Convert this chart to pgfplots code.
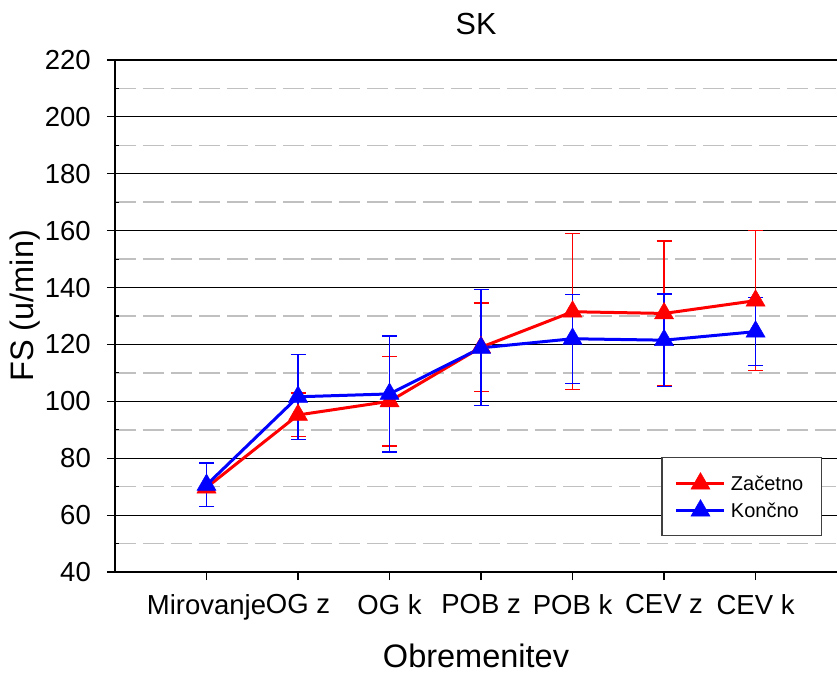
\documentclass[border=0pt]{standalone}
\usepackage{pgfplots}
\pgfplotsset{compat=1.18}
\usepackage{fontspec}
\setmainfont{Liberation Sans}

\definecolor{minorgray}{RGB}{192,192,192}

\begin{document}
\begin{tikzpicture}
\begin{axis}[
  scale only axis,
  width=722bp, height=512bp,
  xmin=-1, xmax=6.89,
  ymin=40, ymax=220,
  xtick={0,1,2,3,4,5,6},
  xticklabels={Mirovanje,OG z,OG k,POB z,POB k,CEV z,CEV k},
  ytick={40,60,...,220},
  minor y tick num=1,
  axis x line*=bottom,
  axis y line*=left,
  axis line style={black, line width=1.4bp},
  tick align=outside,
  major tick length=8bp,
  minor tick length=4bp,
  every tick/.style={black, line width=1.2bp},
  minor y tick style={xshift=4bp},
  ymajorgrids, yminorgrids,
  major grid style={black, line width=1.2bp},
  minor grid style={minorgray, line width=1.5bp, dash pattern=on 21bp off 7bp},
  /pgf/number format/assume math mode=true,
  ticklabel style={font=\fontsize{27.5bp}{30bp}\selectfont},
  xticklabel style={inner sep=0pt, yshift=-14bp},
  yticklabel style={inner sep=0pt, xshift=-16bp},
  title={SK},
  title style={font=\fontsize{30.5bp}{34bp}\selectfont, at={(axis description cs:0.5,1)}, anchor=base, yshift=20bp},
  xlabel={Obremenitev},
  xlabel style={font=\fontsize{32.5bp}{38bp}\selectfont, at={(axis description cs:0.5,0)}, anchor=base, yshift=-95bp},
  ylabel={FS (u/min)},
  ylabel style={font=\fontsize{32.5bp}{38bp}\selectfont, at={(axis description cs:-0.1247,0.52)}, anchor=center, rotate=0},
  legend style={at={(axis description cs:0.979,0.2246)}, anchor=north east,
    draw=black!75, line width=1.2bp, fill=white,
    font=\fontsize{20bp}{24bp}\selectfont,
    inner xsep=13bp, inner ysep=15bp, row sep=6bp,
    nodes={inner xsep=5bp, inner ysep=2bp},
    cells={anchor=west}},
  legend image code/.code={%
    \draw[#1, mark repeat=2, mark phase=2, mark size=11bp]
      plot coordinates {(0bp,0bp) (24bp,0bp) (48bp,0bp)};},
]

% Začetno (initial measurement)
\addplot+[red, line width=3bp, mark=triangle*, mark size=11bp,
  mark options={fill=red, draw=red, line width=0.5bp},
  error bars/.cd, y dir=both, y explicit,
  error bar style={red, line width=1.2bp},
  error mark options={red, rotate=90, mark size=7.5bp, line width=1.2bp}]
  coordinates {
    (0,69.7)  +- (0,0)
    (1,95.2)  +- (0,7.7)
    (2,100.0) +- (0,15.7)
    (3,119.0) +- (0,15.6)
    (4,131.5) +- (0,27.4)
    (5,130.9) +- (0,25.5)
    (6,135.4) +- (0,24.7)
  };
\addlegendentry{Začetno}

% Končno (final measurement)
\addplot+[blue, line width=3bp, mark=triangle*, mark size=11bp,
  mark options={fill=blue, draw=blue, line width=0.5bp},
  error bars/.cd, y dir=both, y explicit,
  error bar style={blue, line width=1.2bp},
  error mark options={blue, rotate=90, mark size=7.5bp, line width=1.2bp}]
  coordinates {
    (0,70.6)  +- (0,7.7)
    (1,101.6) +- (0,14.9)
    (2,102.6) +- (0,20.4)
    (3,118.8) +- (0,20.4)
    (4,122.0) +- (0,15.6)
    (5,121.5) +- (0,16.2)
    (6,124.5) +- (0,12.0)
  };
\addlegendentry{Končno}

\end{axis}
\pgfresetboundingbox
\useasboundingbox (-115bp,-101bp) rectangle (722bp,572bp);
\end{tikzpicture}
\end{document}
